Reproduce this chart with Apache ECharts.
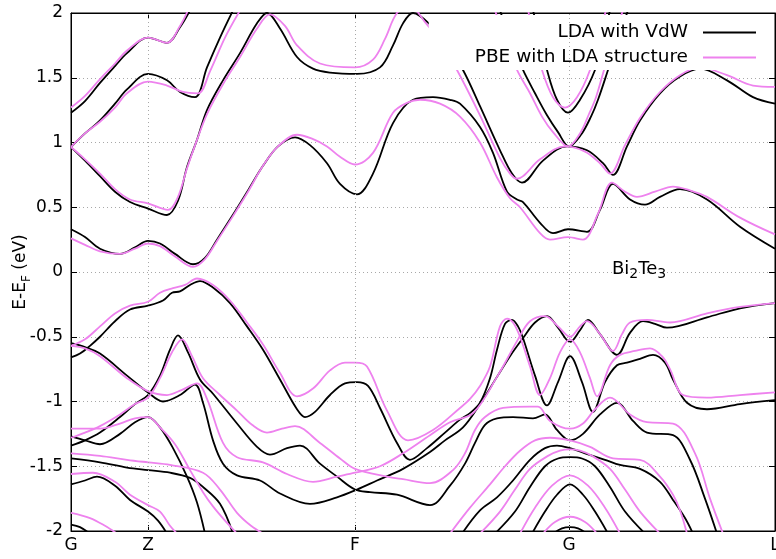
<!DOCTYPE html>
<html>
<head>
<meta charset="utf-8">
<script src="https://cdn.jsdelivr.net/npm/echarts@6/dist/echarts.min.js"></script>
<style>
  html, body { margin: 0; padding: 0; background: #fff; }
  #chart { width: 776px; height: 559px; }
</style>
</head>
<body>
<div id="chart"></div>
<script>
// k-path (arbitrary units) of the high-symmetry points
const kTicks = [0, 77, 284, 498, 704];
const kLabels = ['G', 'Z', 'F', 'G', 'L'];

// bands: [k, E-E_F in eV]
// LDA with VdW (black)
const ldaC1 = [[0,0.33],[14,0.27],[29,0.18],[49,0.14],[64,0.19],[77,0.24],[89,0.22],[104,0.14],[122,0.06],[134,0.11],[146,0.25],[161,0.43],[177,0.63],[192,0.82],[207,0.97],[224,1.04],[239,0.98],[256,0.84],[269,0.68],[286,0.60],[302,0.76],[322,1.15],[342,1.33],[362,1.35],[379,1.33],[389,1.30],[409,1.12],[422,0.92],[436,0.62],[446,0.56],[452,0.54],[469,0.38],[482,0.30],[497,0.33],[516,0.31],[529,0.48],[542,0.68],[559,0.56],[574,0.52],[589,0.58],[609,0.64],[636,0.56],[669,0.35],[704,0.18]];
const ldaC2 = [[0,0.965],[14,0.86],[29,0.74],[44,0.62],[59,0.54],[77,0.49],[96,0.44],[107,0.55],[116,0.81],[126,1.02],[136,1.25],[152,1.48],[169,1.69],[186,1.92],[196,2.0],[209,1.88],[226,1.66],[242,1.57],[259,1.54],[286,1.53],[309,1.58],[322,1.75],[332,1.92],[342,2.0],[359,1.91],[376,1.75],[392,1.56],[409,1.28],[429,0.94],[441,0.76],[451,0.69],[472,0.86],[496,0.97],[516,0.94],[532,0.84],[542,0.75],[556,0.97],[569,1.17],[589,1.38],[609,1.51],[629,1.57],[656,1.48],[682,1.35],[704,1.30]];
const ldaC3 = [[0,0.965],[14,1.07],[29,1.17],[44,1.30],[56,1.41],[77,1.53],[96,1.48],[109,1.39],[124,1.35],[136,1.58],[149,1.81],[162,2.02]];
const ldaC4 = [[0,1.23],[14,1.32],[29,1.46],[44,1.59],[56,1.69],[77,1.81],[96,1.77],[109,1.89],[119,2.02]];
const ldaC5 = [[429,2.02],[439,1.80],[452,1.56],[464,1.38],[476,1.21],[487,1.08],[498,0.97],[510,1.06],[520,1.20],[527,1.33],[537,1.56],[547,1.80],[557,2.02]];
const ldaC6 = [[462,2.02],[469,1.80],[476,1.56],[486,1.33],[497,1.23],[509,1.33],[524,1.56],[532,1.80],[539,2.02]];
const ldaV1 = [[0,-0.66],[9,-0.63],[19,-0.57],[29,-0.50],[44,-0.38],[59,-0.29],[77,-0.26],[92,-0.22],[101,-0.16],[109,-0.15],[119,-0.10],[129,-0.07],[142,-0.12],[159,-0.24],[176,-0.42],[192,-0.60],[209,-0.83],[226,-1.06],[234,-1.12],[244,-1.08],[259,-0.95],[274,-0.86],[286,-0.85],[297,-0.88],[309,-1.05],[326,-1.32],[339,-1.45],[356,-1.36],[374,-1.24],[389,-1.14],[399,-1.09],[409,-1.01],[419,-0.82],[426,-0.60],[434,-0.40],[441,-0.37],[447,-0.42],[452,-0.51],[464,-0.80],[476,-1.03],[487,-0.85],[499,-0.65],[511,-0.85],[522,-1.08],[534,-0.85],[546,-0.72],[556,-0.70],[569,-0.67],[582,-0.64],[594,-0.70],[602,-0.83],[616,-1.01],[636,-1.06],[669,-1.02],[704,-0.99]];
const ldaV2 = [[0,-0.55],[14,-0.58],[29,-0.63],[56,-0.80],[77,-0.93],[92,-1.00],[109,-0.95],[124,-0.87],[132,-1.01],[142,-1.30],[152,-1.48],[166,-1.57],[189,-1.61],[209,-1.71],[239,-1.79],[266,-1.74],[286,-1.68],[306,-1.61],[332,-1.52],[359,-1.39],[374,-1.30],[392,-1.20],[409,-1.02],[426,-0.81],[439,-0.65],[452,-0.51],[464,-0.39],[476,-0.34],[487,-0.43],[499,-0.54],[509,-0.45],[517,-0.37],[529,-0.48],[546,-0.64],[559,-0.47],[572,-0.38],[584,-0.40],[596,-0.43],[636,-0.35],[669,-0.28],[704,-0.24]];
const ldaS = [[0,-1.34],[14,-1.30],[29,-1.24],[49,-1.12],[64,-1.02],[77,-0.95],[89,-0.80],[99,-0.60],[107,-0.49],[117,-0.62],[129,-0.83],[142,-0.94],[166,-1.17],[186,-1.35],[199,-1.41],[216,-1.36],[229,-1.34],[249,-1.48],[266,-1.58],[284,-1.68],[299,-1.70],[326,-1.72],[359,-1.80],[379,-1.65],[394,-1.48],[404,-1.32],[414,-1.18],[426,-1.13],[442,-1.12],[462,-1.13],[474,-1.10],[486,-1.22],[499,-1.30],[512,-1.25],[529,-1.10],[546,-1.01],[562,-1.15],[576,-1.24],[602,-1.26],[619,-1.45],[634,-1.75],[646,-2.02]];
const ldaZP = [[0,-1.27],[14,-1.30],[29,-1.33],[49,-1.25],[64,-1.16],[77,-1.12],[89,-1.20],[102,-1.36],[116,-1.58],[126,-1.78],[134,-2.02]];
const ldaB3 = [[0,-1.44],[29,-1.47],[56,-1.51],[77,-1.53],[99,-1.55],[119,-1.59],[132,-1.66],[149,-1.79],[162,-2.02]];
const ldaB4 = [[0,-1.64],[14,-1.61],[26,-1.58],[44,-1.65],[59,-1.76],[77,-1.85],[87,-1.92],[96,-2.02]];
const ldaB5 = [[0,-1.95],[9,-1.97],[19,-2.02]];
const ldaL1 = [[391,-2.02],[409,-1.84],[426,-1.74],[442,-1.61],[459,-1.45],[474,-1.36],[486,-1.34],[499,-1.36],[514,-1.40],[534,-1.45],[549,-1.49],[569,-1.52],[589,-1.62],[602,-1.76],[614,-1.90],[622,-2.02]];
const ldaL2 = [[424,-2.02],[444,-1.85],[459,-1.66],[474,-1.50],[487,-1.44],[499,-1.43],[511,-1.44],[524,-1.50],[539,-1.66],[554,-1.85],[574,-2.02]];
const ldaR4 = [[461,-2.02],[474,-1.85],[486,-1.72],[499,-1.64],[512,-1.72],[524,-1.85],[537,-2.02]];
const ldaR5 = [[482,-2.02],[491,-1.98],[499,-1.97],[507,-1.98],[516,-2.02]];

// PBE with LDA structure (violet)
const pbeC1 = [[0,0.26],[14,0.21],[29,0.16],[49,0.14],[64,0.18],[77,0.22],[89,0.20],[104,0.12],[122,0.04],[134,0.10],[146,0.24],[161,0.42],[177,0.62],[192,0.82],[207,0.97],[226,1.06],[241,1.03],[256,0.97],[269,0.89],[284,0.83],[302,0.92],[322,1.23],[337,1.31],[349,1.33],[369,1.30],[389,1.20],[409,1.00],[426,0.73],[439,0.57],[449,0.50],[469,0.30],[479,0.25],[497,0.27],[512,0.25],[527,0.45],[541,0.69],[554,0.62],[566,0.58],[584,0.62],[602,0.66],[619,0.63],[636,0.58],[669,0.42],[704,0.29]];
const pbeC2 = [[0,0.965],[14,0.87],[29,0.76],[44,0.64],[59,0.56],[77,0.53],[97,0.48],[107,0.58],[116,0.80],[126,1.02],[136,1.22],[152,1.45],[169,1.66],[186,1.88],[199,1.99],[214,1.90],[226,1.75],[249,1.61],[284,1.58],[302,1.64],[314,1.80],[326,2.0],[339,2.05],[354,1.93],[369,1.78],[386,1.56],[409,1.21],[429,0.88],[439,0.76],[446,0.72],[469,0.87],[494,0.97],[514,0.93],[529,0.84],[539,0.76],[554,0.98],[569,1.19],[589,1.39],[609,1.52],[629,1.58],[656,1.52],[682,1.44],[704,1.43]];
const pbeC3 = [[0,0.965],[14,1.07],[29,1.16],[44,1.27],[56,1.38],[77,1.47],[96,1.44],[112,1.39],[127,1.38],[139,1.55],[154,1.81],[169,2.02]];
const pbeC4 = [[0,1.27],[14,1.36],[29,1.49],[44,1.61],[56,1.71],[77,1.81],[96,1.77],[109,1.90],[117,2.02]];
const pbeC5 = [[424,2.02],[434,1.80],[446,1.56],[459,1.38],[471,1.20],[482,1.08],[497,0.97],[509,1.07],[518,1.22],[525,1.35],[533,1.56],[542,1.80],[552,2.02]];
const pbeC6 = [[457,2.02],[464,1.80],[471,1.56],[482,1.35],[494,1.27],[506,1.35],[519,1.56],[527,1.80],[535,2.02]];
const pbeV1 = [[0,-0.57],[14,-0.52],[29,-0.42],[44,-0.32],[59,-0.26],[77,-0.23],[89,-0.16],[102,-0.125],[114,-0.10],[126,-0.05],[142,-0.10],[159,-0.22],[176,-0.39],[192,-0.56],[209,-0.78],[226,-0.96],[242,-0.90],[259,-0.76],[274,-0.70],[284,-0.70],[296,-0.73],[316,-1.07],[337,-1.30],[362,-1.22],[389,-1.05],[399,-0.98],[409,-0.88],[419,-0.73],[429,-0.42],[436,-0.36],[442,-0.39],[449,-0.50],[459,-0.73],[469,-0.95],[479,-0.82],[489,-0.62],[499,-0.52],[509,-0.62],[519,-0.82],[526,-0.96],[539,-0.72],[549,-0.64],[564,-0.61],[579,-0.59],[591,-0.65],[599,-0.75],[612,-0.95],[636,-0.97],[669,-0.95],[704,-0.93]];
const pbeV2 = [[0,-0.57],[14,-0.59],[29,-0.65],[56,-0.82],[77,-0.92],[96,-0.95],[111,-0.91],[126,-0.86],[136,-0.98],[152,-1.32],[166,-1.43],[192,-1.47],[216,-1.56],[242,-1.62],[266,-1.58],[284,-1.55],[309,-1.50],[332,-1.40],[359,-1.26],[379,-1.16],[402,-1.09],[426,-0.81],[447,-0.52],[459,-0.38],[474,-0.34],[487,-0.42],[499,-0.50],[509,-0.42],[516,-0.38],[529,-0.48],[542,-0.61],[551,-0.48],[559,-0.39],[576,-0.37],[599,-0.39],[636,-0.32],[669,-0.27],[704,-0.24]];
const pbeS = [[0,-1.28],[14,-1.24],[29,-1.19],[49,-1.10],[64,-1.02],[77,-0.97],[89,-0.82],[101,-0.62],[111,-0.52],[121,-0.65],[132,-0.82],[149,-0.95],[166,-1.07],[181,-1.18],[196,-1.24],[211,-1.21],[224,-1.19],[249,-1.32],[269,-1.44],[284,-1.52],[316,-1.58],[332,-1.60],[359,-1.63],[382,-1.53],[394,-1.40],[404,-1.22],[414,-1.12],[432,-1.05],[459,-1.04],[467,-1.04],[479,-1.15],[499,-1.21],[512,-1.17],[524,-1.06],[539,-0.97],[559,-1.10],[576,-1.16],[602,-1.17],[624,-1.40],[639,-1.75],[652,-2.02]];
const pbeZP = [[0,-1.21],[29,-1.21],[49,-1.17],[64,-1.13],[77,-1.12],[89,-1.20],[104,-1.33],[119,-1.53],[132,-1.70],[142,-1.81],[154,-1.92],[166,-2.02]];
const pbeB3 = [[0,-1.40],[29,-1.42],[56,-1.45],[77,-1.47],[99,-1.49],[132,-1.55],[149,-1.68],[166,-1.86],[180,-1.96],[192,-2.02]];
const pbeB4 = [[0,-1.56],[22,-1.55],[44,-1.62],[59,-1.72],[77,-1.80],[89,-1.85],[99,-1.96],[106,-2.02]];
const pbeB5 = [[0,-1.86],[19,-1.90],[34,-1.96],[46,-2.02]];
const pbeL1 = [[379,-2.02],[399,-1.82],[419,-1.64],[434,-1.50],[449,-1.38],[464,-1.30],[479,-1.28],[499,-1.30],[519,-1.35],[542,-1.44],[569,-1.45],[589,-1.58],[602,-1.72],[609,-1.84],[616,-2.02]];
const pbeL2 = [[409,-2.02],[429,-1.85],[444,-1.68],[459,-1.52],[477,-1.42],[489,-1.38],[499,-1.37],[509,-1.38],[521,-1.42],[539,-1.52],[554,-1.68],[569,-1.85],[589,-2.02]];
const pbeR4 = [[449,-2.02],[464,-1.82],[481,-1.65],[499,-1.57],[517,-1.65],[534,-1.82],[549,-2.02]];
const pbeR5 = [[472,-2.02],[484,-1.93],[499,-1.89],[514,-1.93],[526,-2.02]];

const LDA = 'LDA with VdW';
const PBE = 'PBE with LDA structure';
const ldaBands = [ldaC1, ldaC2, ldaC3, ldaC4, ldaC5, ldaC6, ldaV1, ldaV2, ldaS, ldaZP, ldaB3, ldaB4, ldaB5, ldaL1, ldaL2, ldaR4, ldaR5];
const pbeBands = [pbeC1, pbeC2, pbeC3, pbeC4, pbeC5, pbeC6, pbeV1, pbeV2, pbeS, pbeZP, pbeB3, pbeB4, pbeB5, pbeL1, pbeL2, pbeR4, pbeR5];

const FONT = 'DejaVu Sans';
const gridDot = { color: '#a8a8a8', width: 1, type: [1, 3] };

const band = (name, color, data, z) => ({
  name,
  type: 'line',
  data,
  color,
  showSymbol: false,
  smooth: 0.35,
  clip: true,
  silent: true,
  z,
  lineStyle: { color, width: 1.8 },
});

const chart = echarts.init(document.getElementById('chart'));

chart.setOption({
  animation: false,
  textStyle: { fontFamily: FONT },
  grid: {
    left: 71, right: 1, top: 13, bottom: 28,
    containLabel: false,
    outerBoundsMode: 'none',
    show: true, borderColor: '#000', borderWidth: 1,
  },
  legend: {
    data: [{ name: LDA, icon: 'rect' }, { name: PBE, icon: 'rect' }],
    orient: 'vertical',
    right: 4,
    top: 15,
    align: 'right',
    itemWidth: 53,
    itemHeight: 2,
    itemGap: 4,
    padding: [7, 16, 2, 46],
    backgroundColor: '#fff',
    textStyle: { fontFamily: FONT, fontSize: 18.5, color: '#000', lineHeight: 21, padding: [0, 10, 0, 0] },
    selectedMode: false,
  },
  xAxis: [
    {
      type: 'value',
      min: 0,
      max: 704,
      axisLine: { show: true, onZero: false, lineStyle: { color: '#000' } },
      axisTick: { show: true, inside: true, length: 6, customValues: kTicks, lineStyle: { color: '#000' } },
      axisLabel: {
        customValues: kTicks,
        formatter: (v) => kLabels[kTicks.indexOf(v)],
        fontFamily: FONT,
        fontSize: 17,
        color: '#000',
        margin: 6,
      },
      splitLine: { show: false },
    },
    {
      type: 'value',
      position: 'top',
      min: 0,
      max: 704,
      axisLine: { show: true, onZero: false, lineStyle: { color: '#000' } },
      axisTick: { show: true, inside: true, length: 6, customValues: kTicks, lineStyle: { color: '#000' } },
      axisLabel: { show: false },
      splitLine: { show: false },
    },
  ],
  yAxis: [
    {
      type: 'value',
      min: -2,
      max: 2,
      interval: 0.5,
      name: '{m|E-E}{s|F}{m| (eV)}',
      nameLocation: 'middle',
      nameRotate: 90,
      nameGap: 38,
      nameMoveOverlap: false,
      nameTextStyle: {
        rich: {
          m: { fontFamily: FONT, fontSize: 17, color: '#000', lineHeight: 24 },
          s: { fontFamily: FONT, fontSize: 12, color: '#000', lineHeight: 12, verticalAlign: 'bottom' },
        },
      },
      axisLine: { show: true, onZero: false, lineStyle: { color: '#000' } },
      axisTick: { show: true, inside: true, length: 6, lineStyle: { color: '#000' } },
      axisLabel: { fontFamily: FONT, fontSize: 17, color: '#000', margin: 8 },
      splitLine: { show: true, lineStyle: gridDot },
    },
    {
      type: 'value',
      position: 'right',
      min: -2,
      max: 2,
      interval: 0.5,
      axisLine: { show: true, onZero: false, lineStyle: { color: '#000' } },
      axisTick: { show: true, inside: true, length: 6, lineStyle: { color: '#000' } },
      axisLabel: { show: false },
      splitLine: { show: false },
    },
  ],
  graphic: [
    {
      type: 'text',
      left: 612,
      top: 260,
      z: 10,
      style: {
        text: '{m|Bi}{s|2}{m|Te}{s|3}',
        rich: {
          m: { fontFamily: FONT, fontSize: 18, fill: '#000', lineHeight: 24 },
          s: { fontFamily: FONT, fontSize: 14, fill: '#000', lineHeight: 14, verticalAlign: 'bottom' },
        },
      },
    },
  ],
  series: [
    {
      type: 'line',
      data: [],
      z: 1,
      silent: true,
      markLine: {
        silent: true,
        symbol: 'none',
        label: { show: false },
        lineStyle: gridDot,
        data: kTicks.slice(1, 4).map((k) => ({ xAxis: k })),
      },
    },
    ...ldaBands.map((d) => band(LDA, '#000000', d, 2)),
    ...pbeBands.map((d) => band(PBE, '#ee82ee', d, 3)),
  ],
});
</script>
</body>
</html>
